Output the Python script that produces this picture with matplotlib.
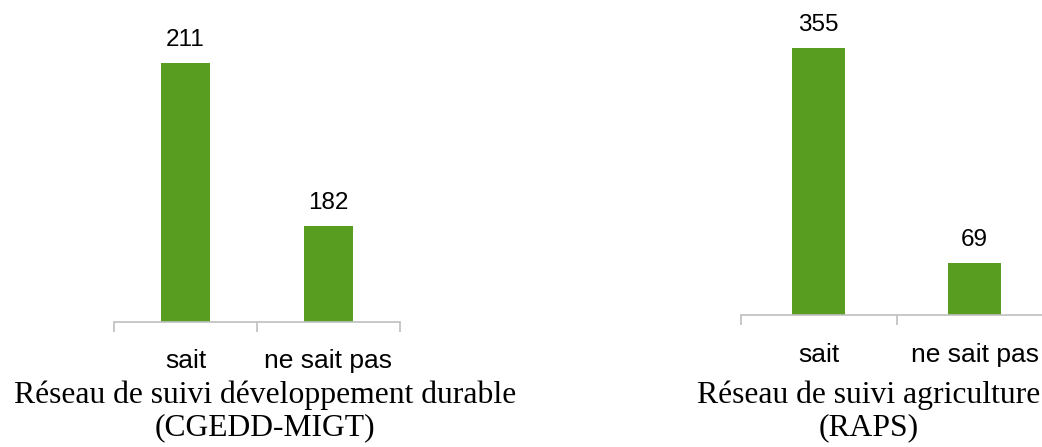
import matplotlib.pyplot as plt

# Data
categories = ["sait", "ne sait pas"]
cgedd_values = [211, 182]
raps_values = [355, 69]
titles = ["Réseau de suivi développement durable\n(CGEDD-MIGT)",
          "Réseau de suivi agriculture\n(RAPS)"]

W, H = 1042, 447
green = '#589d1f'
grey = '#bfbfbf'

fig = plt.figure(figsize=(W / 100, H / 100), dpi=100)


def px_axes(left, right, bottom, top):
    # axes box given in pixel coords (y measured from top)
    return fig.add_axes([left / W, 1 - bottom / H, (right - left) / W, (bottom - top) / H])


def draw(ax, values, ylim, bar_width):
    bars = ax.bar(range(len(values)), values, width=bar_width, color=green)
    ax.bar_label(bars, padding=9, fontsize=17.5, family='Liberation Sans')
    ax.set_xlim(-0.5, len(values) - 0.5)
    ax.set_ylim(*ylim)
    for s in ['top', 'left', 'right']:
        ax.spines[s].set_visible(False)
    ax.spines['bottom'].set_color(grey)
    ax.spines['bottom'].set_linewidth(1.2)
    ax.set_yticks([])
    ax.set_xticks(range(len(values)))
    ax.set_xticklabels(categories, fontsize=19, family='Liberation Sans')
    ax.tick_params(axis='x', which='major', length=0, pad=20)
    ax.set_xticks([-0.5, 0.5, 1.5], minor=True)
    ax.tick_params(axis='x', which='minor', length=7.5, width=1.2, color=grey)


ax1 = px_axes(114, 400, 321.5, 29.5)
draw(ax1, cgedd_values, (165, 217), 0.336)

ax2 = px_axes(740.7, 1052.7, 315, 20.3)
draw(ax2, raps_values, (0, 392), 0.338)

fig.text(265 / W, 1 - 380 / H, titles[0], ha='center', va='top', fontsize=22.8,
         family='Liberation Serif', linespacing=1.15)
fig.text(869 / W, 1 - 380 / H, titles[1], ha='center', va='top', fontsize=22.8,
         family='Liberation Serif', linespacing=1.15)

fig.savefig('out.png', dpi=100)
